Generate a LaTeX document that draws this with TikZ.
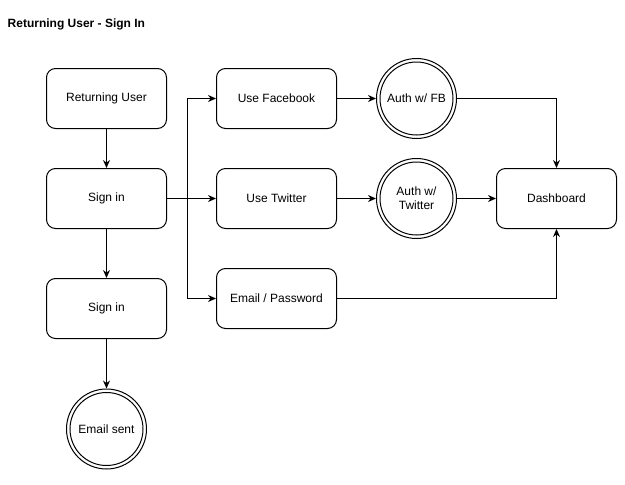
\documentclass[tikz,border=0pt]{standalone}
\usepackage{fontspec}
\setmainfont{Liberation Sans}
\usetikzlibrary{arrows.meta}
\begin{document}
\begin{tikzpicture}[x=1pt,y=-1pt,
  box/.style={draw, line width=1pt, rounded corners=9pt, minimum width=120pt, minimum height=60pt, inner sep=0pt, font=\fontsize{12}{14}\selectfont},
  dcirc/.style={draw, line width=1pt, circle, minimum size=80pt, inner sep=0pt, align=center, font=\fontsize{12}{14}\selectfont},
  arr/.style={draw, line width=1pt, -{Stealth[length=8pt,width=7pt]}}]
\useasboundingbox (0,0) rectangle (625,485);
\node[anchor=west, inner sep=0pt, font=\bfseries\fontsize{12}{14}\selectfont] (title) at (7.5,24) {Returning User - Sign In};
\node[box] (ru) at (106.5,98.5) {Returning User};
\node[box] (s1) at (106.5,198.5) {Sign in};
\node[box] (s2) at (106.5,308.5) {Sign in};
\node[dcirc] (es) at (106.5,429) {Email sent};
\node[box] (fb) at (276.5,98.5) {Use Facebook};
\node[box] (tw) at (276.5,198.5) {Use Twitter};
\node[box] (em) at (276.5,298.5) {Email / Password};
\node[dcirc] (afb) at (416.5,98.5) {Auth w/ FB};
\node[dcirc] (atw) at (416.5,198.5) {Auth w/\\Twitter};
\node[box] (dash) at (556.5,198.5) {Dashboard};
\foreach \c in {es,afb,atw} \draw[line width=1pt] (\c.center) circle[radius=36.5pt];
\coordinate (j) at (187,198.5);
\draw[arr] (ru) -- (s1);
\draw[arr] (s1) -- (s2);
\draw[arr] (s2) -- (es);
\draw[arr] (s1) -- (tw);
\draw[arr] (j) |- (fb.west);
\draw[arr] (j) |- (em.west);
\draw[arr] (fb) -- (afb);
\draw[arr] (tw) -- (atw);
\draw[arr] (atw) -- (dash);
\draw[arr] (afb.east) -| (dash.north);
\draw[arr] (em.east) -| (dash.south);
\end{tikzpicture}
\end{document}
